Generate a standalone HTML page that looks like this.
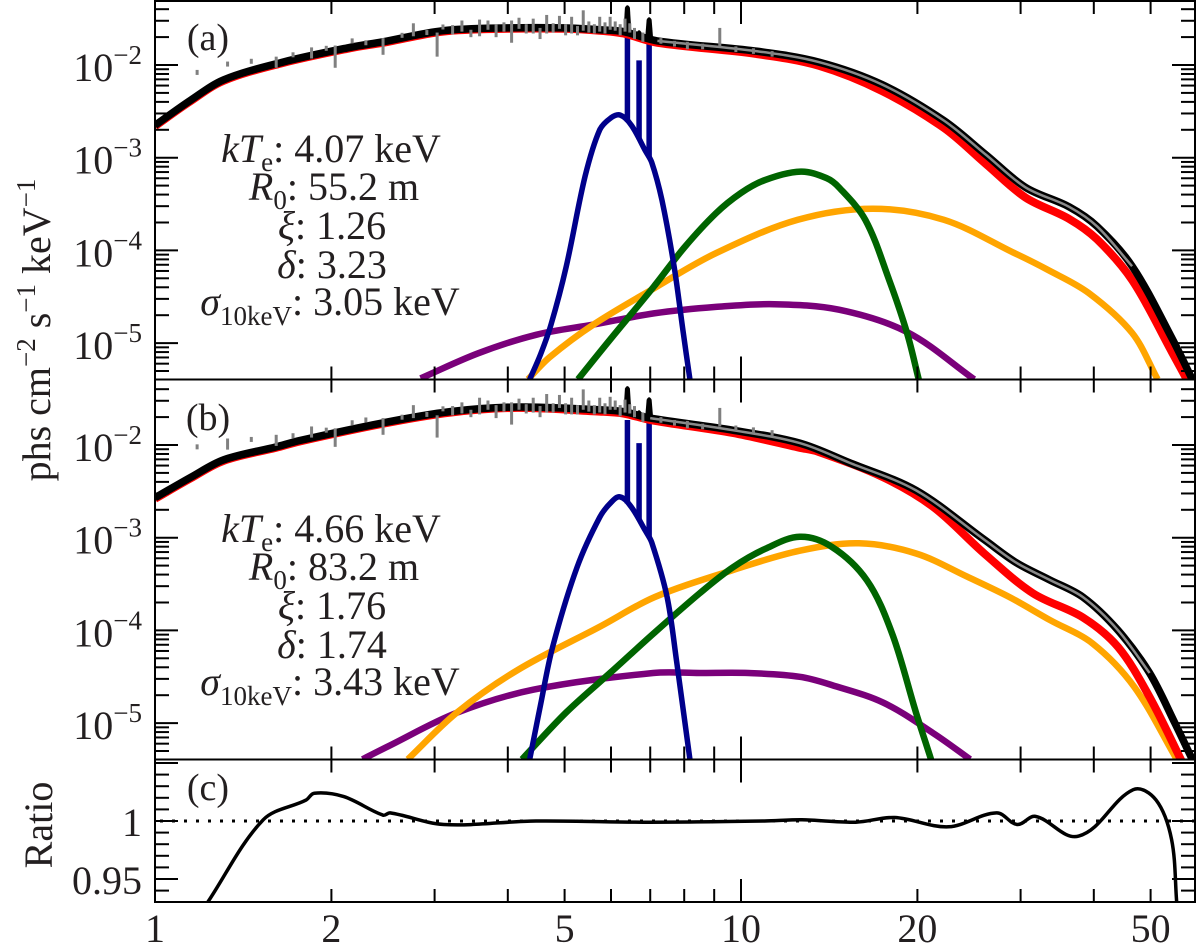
<!DOCTYPE html>
<html><head><meta charset="utf-8"><title>Spectrum fit</title>
<style>
html,body{margin:0;padding:0;background:#fff;}
svg{display:block;}
svg text{font-family:"Liberation Serif","Times New Roman","Nimbus Roman","Noto Serif CJK SC","DejaVu Serif",serif;}
</style></head>
<body>
<svg id="chart" width="1200" height="947" viewBox="0 0 1200 947" xmlns="http://www.w3.org/2000/svg">
<defs>
<clipPath id="clipA"><rect x="155" y="1" width="1040" height="378.5"/></clipPath>
<clipPath id="clipB"><rect x="155" y="380" width="1040" height="379"/></clipPath>
<clipPath id="clipC"><rect x="155" y="760" width="1040" height="142"/></clipPath>
</defs>
<g id="layer"></g>
</svg>
<script>
// ---- axis config ----
const xTickValues=[1,2,3,4,5,6,7,8,9,10,20,30,40,50];
const xTickLabels=["1","2","5","10","20","50"];
const xTickLabelValues=[1,2,5,10,20,50];
const yDecades=[-2,-3,-4,-5];
const ratioTicks=[0.94,0.95,0.96,0.97,0.98,0.99,1.0,1.01,1.02,1.03,1.04,1.05];
const ratioLabelValues=[0.95,1];
const ratioLabels=["0.95","1"];

// ---- panel (a) model curves: energies (keV) and log10 flux ----
const aTotalE=[1,1.15,1.31,1.65,2.15,2.45,3.1,4.0,5.0,5.74,6.3,7.2,10.6,13.6,17.4,22.2,26.2,30.6,36.3,40.5,46.5,54.4,59.5];
const aTotalL=[-2.65,-2.38,-2.16,-1.97,-1.81,-1.75,-1.63,-1.60,-1.60,-1.62,-1.64,-1.74,-1.85,-1.97,-2.21,-2.60,-2.97,-3.32,-3.53,-3.74,-4.17,-4.95,-5.45];
const aRedE=[1,1.15,1.31,1.65,2.15,2.45,3.1,4.0,5.0,5.74,6.3,7.2,10.6,13.6,17.4,22.2,26.2,30.6,36.3,40.5,46.5,54.4,58.3];
const aRedL=[-2.66,-2.39,-2.17,-1.98,-1.82,-1.76,-1.64,-1.61,-1.61,-1.63,-1.66,-1.76,-1.88,-2.01,-2.28,-2.68,-3.07,-3.43,-3.66,-3.88,-4.32,-5.1,-5.45];
const aBlueE=[4.36,4.55,4.74,5.03,5.42,5.74,6.0,6.22,6.5,6.86,7.04,7.33,7.69,7.97,8.18];
const aBlueL=[-5.39,-5.12,-4.80,-4.18,-3.20,-2.70,-2.57,-2.54,-2.65,-2.92,-3.05,-3.46,-4.18,-4.89,-5.39];
const aGreenE=[5.27,6.0,7.1,8.0,9.06,10.0,11.0,12.65,14.0,14.7,16.3,17.9,19.2,20.1];
const aGreenL=[-5.39,-4.95,-4.39,-3.97,-3.60,-3.38,-3.24,-3.15,-3.22,-3.32,-3.67,-4.32,-4.89,-5.39];
const aOrangeE=[4.33,4.72,5.6,7.1,9.06,12.5,16.8,22.2,29.1,33.4,39.2,46.5,51.4];
const aOrangeL=[-5.39,-5.15,-4.80,-4.41,-4.03,-3.67,-3.55,-3.67,-4.02,-4.21,-4.46,-4.89,-5.39];
const aPurpleE=[2.84,3.56,4.47,5.6,7.1,9.06,11.4,14.7,19.2,25.0];
const aPurpleL=[-5.38,-5.11,-4.91,-4.80,-4.68,-4.61,-4.58,-4.64,-4.88,-5.39];
const aLineE=[6.4,6.7,6.97];
const aLineTopL=[-1.65,-1.95,-1.65];
const aPeakTopL=[-1.35,-1.62,-1.48];
// panel (a) data (grey error bars)
const aDataE=[1.18,1.33,1.46,1.61,1.72,1.85,1.96,2.03,2.17,2.29,2.45,2.64,2.76,2.91,3.03,3.1,3.22,3.34,3.46,3.58,3.7,3.82,3.94,4.06,4.18,4.3,4.42,4.54,4.66,4.78,4.9,5.02,5.14,5.26,5.38,5.5,5.62,5.74,5.86,5.98,6.1,6.22,6.34,6.46,6.58,6.8,7.3,7.7,8.1,8.6,9.2,9.8,10.5,11.3];
const aDataL=[-2.08,-1.99,-1.96,-1.97,-1.89,-1.87,-1.82,-1.91,-1.74,-1.76,-1.80,-1.68,-1.62,-1.65,-1.78,-1.59,-1.62,-1.58,-1.66,-1.60,-1.57,-1.63,-1.59,-1.64,-1.55,-1.61,-1.58,-1.66,-1.56,-1.60,-1.54,-1.62,-1.57,-1.63,-1.52,-1.59,-1.61,-1.56,-1.60,-1.55,-1.58,-1.62,-1.57,-1.60,-1.66,-1.70,-1.74,-1.77,-1.79,-1.80,-1.70,-1.83,-1.85,-1.88];
const aDataErr=[0.01,0.01,0.01,0.06,0.01,0.06,0.02,0.12,0.02,0.02,0.09,0.02,0.07,0.02,0.13,0.02,0.05,0.06,0.04,0.09,0.05,0.07,0.05,0.12,0.06,0.05,0.08,0.06,0.10,0.05,0.07,0.06,0.09,0.05,0.11,0.06,0.05,0.08,0.06,0.07,0.05,0.06,0.07,0.05,0.06,0.05,0.03,0.03,0.04,0.03,0.10,0.03,0.03,0.03];

// ---- panel (b) model curves ----
const bTotalE=[1,1.15,1.31,1.61,1.77,2.45,3.19,4.15,5.74,6.3,7.0,9.68,12.6,15.3,19.9,26.0,29.5,33.5,38.3,44.0,49.8,55,59.5];
const bTotalL=[-2.57,-2.35,-2.16,-2.02,-1.95,-1.76,-1.64,-1.59,-1.62,-1.64,-1.71,-1.84,-1.98,-2.19,-2.49,-3.02,-3.27,-3.45,-3.64,-4.0,-4.46,-5.0,-5.45];
const bRedE=[1,1.15,1.31,1.61,1.77,2.45,3.19,4.15,5.74,6.3,7.0,9.68,12.6,13.5,17.5,21.3,26.0,31.5,38.3,44.0,49.8,56.9];
const bRedL=[-2.58,-2.36,-2.17,-2.03,-1.96,-1.77,-1.65,-1.60,-1.64,-1.66,-1.73,-1.87,-2.03,-2.07,-2.35,-2.67,-3.17,-3.60,-3.86,-4.18,-4.72,-5.45];
const bBlueE=[4.36,4.55,4.77,5.25,5.74,6.0,6.22,6.5,6.86,7.04,7.48,7.77,8.18];
const bBlueL=[-5.39,-4.80,-4.18,-3.32,-2.78,-2.62,-2.56,-2.67,-2.92,-3.05,-3.64,-4.35,-5.39];
const bGreenE=[4.23,5.04,6.0,7.13,8.5,9.68,11.0,12.6,14.3,16.4,18.1,19.9,21.1];
const bGreenL=[-5.39,-4.88,-4.45,-4.02,-3.60,-3.32,-3.12,-2.99,-3.10,-3.46,-4.03,-4.89,-5.39];
const bOrangeE=[2.70,3.27,4.15,5.74,7.13,9.68,12.6,15.9,19.9,24.3,28.7,33.7,39.8,46.9,55.4];
const bOrangeL=[-5.39,-4.89,-4.43,-3.96,-3.64,-3.35,-3.14,-3.06,-3.17,-3.42,-3.64,-3.89,-4.14,-4.61,-5.39];
const bPurpleE=[2.26,2.50,3.27,4.42,7.08,8.5,10.3,12.6,14.3,17.5,21.3,24.6];
const bPurpleL=[-5.39,-5.25,-4.89,-4.64,-4.46,-4.46,-4.46,-4.50,-4.59,-4.78,-5.11,-5.39];
const bLineE=[6.4,6.7,6.97];
const bLineTopL=[-1.73,-1.98,-1.73];
const bPeakTopL=[-1.36,-1.62,-1.48];
const bDataE=[1.18,1.33,1.46,1.61,1.72,1.85,1.96,2.03,2.17,2.29,2.45,2.64,2.76,2.91,3.03,3.1,3.22,3.34,3.46,3.58,3.7,3.82,3.94,4.06,4.18,4.3,4.42,4.54,4.66,4.78,4.9,5.02,5.14,5.26,5.38,5.5,5.62,5.74,5.86,5.98,6.1,6.22,6.34,6.46,6.58,6.8,7.3,7.7,8.1,8.6,9.2,9.8,10.5,11.3];
const bDataL=[-2.02,-1.99,-1.94,-1.95,-1.90,-1.86,-1.84,-1.92,-1.76,-1.73,-1.80,-1.70,-1.64,-1.67,-1.80,-1.61,-1.63,-1.60,-1.66,-1.58,-1.57,-1.64,-1.59,-1.66,-1.56,-1.61,-1.57,-1.64,-1.55,-1.60,-1.53,-1.61,-1.58,-1.62,-1.51,-1.58,-1.62,-1.57,-1.61,-1.55,-1.57,-1.63,-1.58,-1.61,-1.64,-1.70,-1.73,-1.76,-1.78,-1.80,-1.70,-1.82,-1.84,-1.87];
const bDataErr=[0.01,0.06,0.01,0.06,0.01,0.06,0.02,0.10,0.02,0.02,0.09,0.02,0.07,0.02,0.12,0.02,0.05,0.06,0.04,0.09,0.05,0.07,0.05,0.12,0.06,0.05,0.08,0.06,0.10,0.05,0.07,0.06,0.09,0.05,0.11,0.06,0.05,0.08,0.06,0.07,0.05,0.06,0.07,0.05,0.06,0.05,0.03,0.03,0.04,0.03,0.10,0.03,0.03,0.03];

// ---- panel (c) ratio ----
const ratioE=[1.23,1.53,1.81,1.87,2.10,2.45,2.52,3.11,4.47,6.99,10.97,12.7,15.7,18.3,22.6,27.3,29.6,31.8,37.7,46.7,51.1,54.3,55.4];
const ratioV=[0.930,1.001,1.018,1.024,1.021,1.005,1.007,0.997,1.0,0.999,1.0,1.001,0.999,1.003,0.995,1.007,0.997,1.004,0.987,1.027,1.018,0.984,0.930];

// ---- scales ----
const X0=155, DEC=586;
function X(e){return X0+Math.log10(e)*DEC;}
const panelTop={a:0,b:380};
function Y(l,p){return panelTop[p]+65+(-2-l)*92.7;}
function YR(r){return 821-(r-1)/0.05*58;}

const svgNS="http://www.w3.org/2000/svg";
const layer=document.getElementById('layer');
function mk(tag,attrs,parent){const el=document.createElementNS(svgNS,tag);for(const k in attrs)el.setAttribute(k,attrs[k]);(parent||layer).appendChild(el);return el;}

function smoothPath(pts){
  const n=pts.length;
  const tan=pts.map((p,i)=>{
    const a=pts[Math.max(0,i-1)],b=pts[Math.min(n-1,i+1)];
    const dx=b[0]-a[0],dy=b[1]-a[1],L=Math.hypot(dx,dy)||1;return [dx/L,dy/L];
  });
  let d="M"+pts[0][0].toFixed(1)+","+pts[0][1].toFixed(1);
  for(let i=0;i<n-1;i++){
    const p1=pts[i],p2=pts[i+1],s=Math.hypot(p2[0]-p1[0],p2[1]-p1[1])/3;
    const c1=[p1[0]+tan[i][0]*s,p1[1]+tan[i][1]*s];
    const c2=[p2[0]-tan[i+1][0]*s,p2[1]-tan[i+1][1]*s];
    d+=" C"+c1[0].toFixed(1)+","+c1[1].toFixed(1)+" "+c2[0].toFixed(1)+","+c2[1].toFixed(1)+" "+p2[0].toFixed(1)+","+p2[1].toFixed(1);
  }
  return d;
}
function interp(Es,Ls,e){
  const lx=Math.log10(e);
  for(let i=0;i<Es.length-1;i++){const a=Math.log10(Es[i]),b=Math.log10(Es[i+1]);if(lx>=a&&lx<=b){return Ls[i]+(Ls[i+1]-Ls[i])*(lx-a)/(b-a);}}
  return lx<Math.log10(Es[0])?Ls[0]:Ls[Ls.length-1];
}
function curve(Es,Ls,p,color,w,g){
  const pts=Es.map((e,i)=>[X(e),Y(Ls[i],p)]);
  return mk('path',{d:smoothPath(pts),fill:'none',stroke:color,'stroke-width':w,'stroke-linejoin':'round','stroke-linecap':'butt'},g);
}

function drawPanel(p,clip,D){
  const g=mk('g',{'clip-path':'url(#'+clip+')'});
  
  
  let el;
  el=curve(D.purE,D.purL,p,'#7a007a',6.5,g);
  
  
  el=curve(D.orE,D.orL,p,'#ffa500',6.5,g);
  
  
  el=curve(D.grE,D.grL,p,'#006400',6.5,g);
  
  
  el=curve(D.blE,D.blL,p,'#00008b',5.5,g);
  
  
  D.lineE.forEach((e,i)=>{
    const base=interp(D.blE,D.blL,e);
    const ln=mk('line',{x1:X(e),x2:X(e),y1:Y(base,p),y2:Y(D.lineTop[i],p),stroke:'#00008b','stroke-width':5.5},g);
    
    
  });
  el=curve(D.redE,D.redL,p,'#ff0000',8,g);
  
  
  el=curve(D.totE,D.totL,p,'#000000',7.5,g);
  
  
  D.lineE.forEach((e,i)=>{
    const base=interp(D.totE,D.totL,e);
    const pk=mk('path',{d:`M${X(e)-4},${Y(base,p)} L${X(e)-2.5},${Y(D.peakTop[i],p)+3} Q${X(e)},${Y(D.peakTop[i],p)-2} ${X(e)+2.5},${Y(D.peakTop[i],p)+3} L${X(e)+4},${Y(base,p)} Z`,fill:'#000'},g);
    
    
  });
  const hiE=[],hiL=[];
  for(let i=0;i<D.totE.length;i++){if(D.totE[i]>=7&&D.totE[i]<=50){hiE.push(D.totE[i]);hiL.push(D.totL[i]);}}
  el=curve(hiE,hiL,p,'#8a8a8a',2.5,g);
  
  
  D.dE.forEach((e,i)=>{
    const x=X(e),y=Y(D.dL[i],p),dy=Math.max(D.dErr[i]*92.7,2.5);
    const b=mk('rect',{x:x-1.5,y:y-dy,width:3,height:2*dy,fill:'#808080'},g);
    
    
  });
}

drawPanel('a','clipA',{totE:aTotalE,totL:aTotalL,redE:aRedE,redL:aRedL,blE:aBlueE,blL:aBlueL,grE:aGreenE,grL:aGreenL,orE:aOrangeE,orL:aOrangeL,purE:aPurpleE,purL:aPurpleL,lineE:aLineE,lineTop:aLineTopL,peakTop:aPeakTopL,dE:aDataE,dL:aDataL,dErr:aDataErr});
drawPanel('b','clipB',{totE:bTotalE,totL:bTotalL,redE:bRedE,redL:bRedL,blE:bBlueE,blL:bBlueL,grE:bGreenE,grL:bGreenL,orE:bOrangeE,orL:bOrangeL,purE:bPurpleE,purL:bPurpleL,lineE:bLineE,lineTop:bLineTopL,peakTop:bPeakTopL,dE:bDataE,dL:bDataL,dErr:bDataErr});

// ratio panel
const gc=mk('g',{'clip-path':'url(#clipC)'});


const unity=mk('line',{x1:160,x2:1195,y1:YR(1),y2:YR(1),stroke:'#000','stroke-width':3,'stroke-dasharray':'3 9'},gc);


const rp=mk('path',{d:smoothPath(ratioE.map((e,i)=>[X(e),YR(ratioV[i])])),fill:'none',stroke:'#000','stroke-width':3.5},gc);



// frame
const frame=mk('g',{stroke:'#000','stroke-width':2,fill:'none'});


mk('rect',{x:155,y:1,width:1040,height:901},frame);
mk('line',{x1:155,x2:1195,y1:379.5,y2:379.5},frame);
mk('line',{x1:155,x2:1195,y1:759.5,y2:759.5},frame);

// ticks
const tk=mk('g',{stroke:'#000','stroke-width':2});


xTickValues.forEach(v=>{
  const x=X(v),len=(v===1||v===10)?23:13;
  [[1,1],[379.5,-1],[379.5,1],[759.5,-1],[759.5,1],[902,-1]].forEach(([y,s])=>{mk('line',{x1:x,x2:x,y1:y,y2:y+s*len},tk);});
});
['a','b'].forEach(p=>{
  const top=panelTop[p];
  for(let d=-6;d<=-1;d++){for(let m=1;m<=9;m++){
    const l=d+Math.log10(m);const y=Y(l,p);
    if(y<top+3||y>top+378)continue;
    const len=m===1?23:14;
    mk('line',{x1:155,x2:155+len,y1:y,y2:y},tk);
    mk('line',{x1:1195,x2:1195-len,y1:y,y2:y},tk);
  }}
});
ratioTicks.forEach(r=>{
  const y=YR(r);if(y<762||y>900)return;
  const major=Math.abs(r-1)<1e-6||Math.abs(r-0.95)<1e-6||Math.abs(r-1.05)<1e-6;
  const len=major?23:14;
  mk('line',{x1:155,x2:155+len,y1:y,y2:y},tk);
  mk('line',{x1:1195,x2:1195-len,y1:y,y2:y},tk);
});

// labels
const lab=mk('g',{fill:'#231f20'});


xTickLabelValues.forEach((v,i)=>{
  const t=mk('text',{x:X(v),y:942,'text-anchor':'middle','font-size':40},lab);
  t.textContent=xTickLabels[i];
  
  
});
['a','b'].forEach(p=>{
  yDecades.forEach(d=>{
    const t=mk('text',{x:142,y:Y(d,p)+16,'text-anchor':'end','font-size':40},lab);
    
    
    const a=mk('tspan',{},t);a.textContent='10';
    const s=mk('tspan',{'font-size':27,dy:-17},t);s.textContent='\u2212'+(-d);
  });
});
ratioLabelValues.forEach((v,i)=>{
  const t=mk('text',{x:142,y:YR(v)+15,'text-anchor':'end','font-size':40},lab);
  t.textContent=ratioLabels[i];
  
  
});
</script>
<script>
(function(){
const svg=document.getElementById('chart');
const NS="http://www.w3.org/2000/svg";
function txt(x,y,size,parts,name,anchor){
  const t=document.createElementNS(NS,'text');
  t.setAttribute('x',x);t.setAttribute('y',y);t.setAttribute('font-size',size);
  t.setAttribute('text-anchor',anchor||'middle');t.setAttribute('fill','#231f20');
  
  
  parts.forEach(p=>{const s=document.createElementNS(NS,'tspan');s.textContent=p[0];if(p[1])for(const k in p[1])s.setAttribute(k,p[1][k]);t.appendChild(s);});
  svg.appendChild(t);return t;
}
const it={'font-style':'italic'};
[['a',0,['4.07','55.2','1.26','3.23','3.05']],['b',380,['4.66','83.2','1.76','1.74','3.43']]].forEach(([p,o,v])=>{
  txt(208,o+50,38,[['('+p+')']],'panel-'+p+'-label','middle');
  txt(331,o+162,40,[['k',it],['T',it],['e',{'font-size':27,dy:9}],[': '+v[0]+' keV',{dy:-9}]],'param-kte-'+p);
  txt(334,o+200,40,[['R',it],['0',{'font-size':27,dy:9}],[': '+v[1]+' m',{dy:-9}]],'param-r0-'+p);
  txt(332,o+239,40,[['\u03BE',it],[': '+v[2]]],'param-xi-'+p);
  txt(332,o+278,40,[['\u03B4',it],[': '+v[3]]],'param-delta-'+p);
  txt(330,o+315,40,[['\u03C3',it],['10keV',{'font-size':27,dy:10}],[': '+v[4]+' keV',{dy:-10}]],'param-sigma-'+p);
});
txt(208,800,38,[['(c)']],'panel-c-label','middle');
const yt=txt(0,0,40,[['phs  cm'],['\u22122',{'font-size':27,dy:-15}],[' s',{dy:15}],['\u22121',{'font-size':27,dy:-15}],[' keV',{dy:15}],['\u22121',{'font-size':27,dy:-15}]],'y-axis-title');
yt.setAttribute('transform','translate(50,330) rotate(-90)');
const rt=txt(0,0,40,[['Ratio']],'ratio-axis-title');
rt.setAttribute('transform','translate(52,825) rotate(-90)');
})();
</script>
</body></html>
